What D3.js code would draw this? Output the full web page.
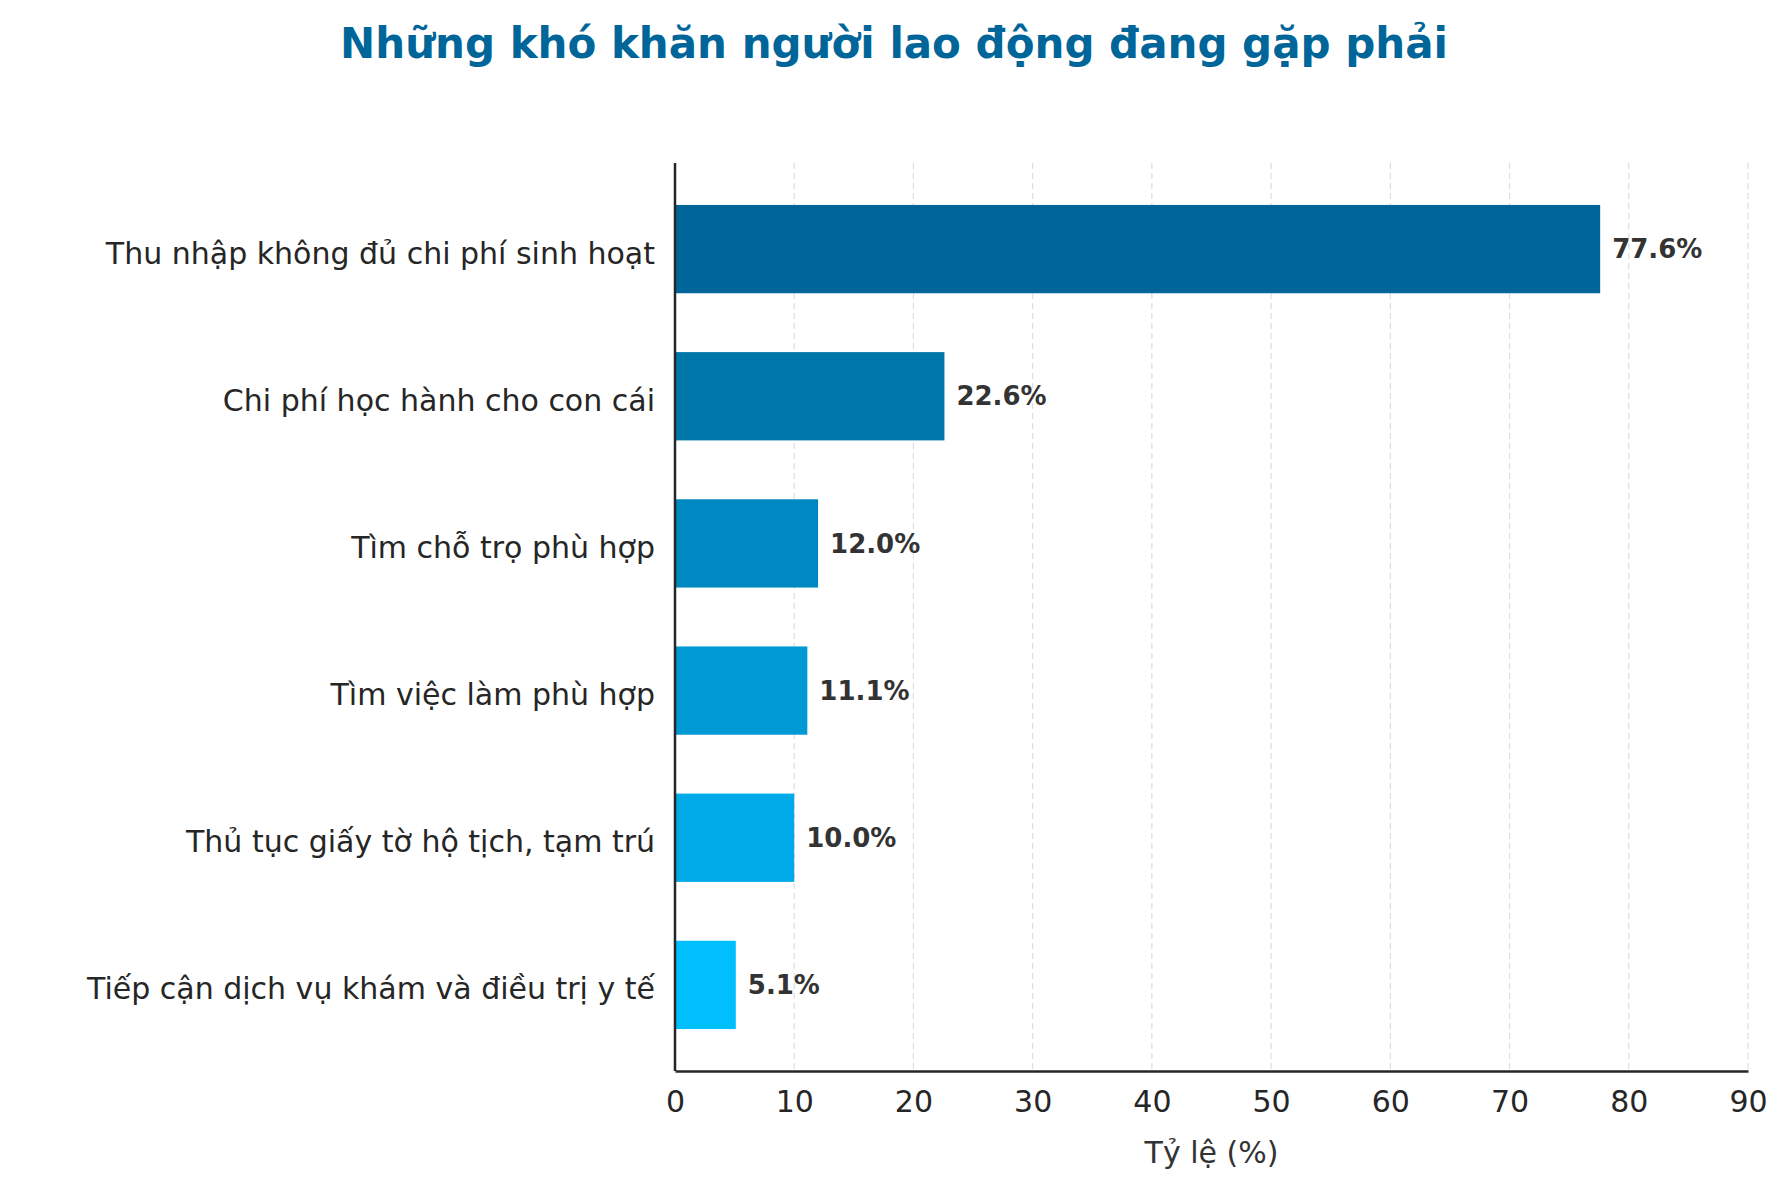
<!DOCTYPE html>
<html>
<head>
<meta charset="utf-8">
<script src="https://cdn.jsdelivr.net/npm/d3@7"></script>
<style>
  body { margin: 0; background: #fff; }
  text { font-family: "DejaVu Sans", sans-serif; }
</style>
</head>
<body>
<div id="chart"></div>
<script>
// data
var categories = [
    "Thu nhập không đủ chi phí sinh hoạt",
    "Chi phí học hành cho con cái",
    "Tìm chỗ trọ phù hợp",
    "Tìm việc làm phù hợp",
    "Thủ tục giấy tờ hộ tịch, tạm trú",
    "Tiếp cận dịch vụ khám và điều trị y tế"
];
var values = [77.6, 22.6, 12.0, 11.1, 10.0, 5.1];
var colors = ["#006699", "#0077aa", "#0088c2", "#0099d4", "#00aae8", "#00bfff"];
var xTicks = [0, 10, 20, 30, 40, 50, 60, 70, 80, 90];

var W = 1779, H = 1185;
var plotLeft = 675, plotRight = 1748, plotTop = 163, plotBottom = 1071;

var svg = d3.select("#chart").append("svg")
    .attr("width", W).attr("height", H);

var x = d3.scaleLinear().domain([0, 90]).range([plotLeft, plotRight]);
var y = d3.scaleLinear().domain([-0.585, categories.length - 1 + 0.585]).range([plotTop, plotBottom]);

// grid
svg.append("g").selectAll("line")
    .data(xTicks.slice(1))
    .enter().append("line")
    .attr("x1", function(d) { return x(d); })
    .attr("x2", function(d) { return x(d); })
    .attr("y1", plotTop).attr("y2", plotBottom)
    .attr("stroke", "#dddddd")
    .attr("stroke-width", 1.2)
    .attr("stroke-dasharray", "6,4");

// bars
svg.append("g").selectAll("rect")
    .data(values)
    .enter().append("rect")
    .attr("x", x(0))
    .attr("y", function(d, i) { return y(i - 0.3); })
    .attr("width", function(d) { return x(d) - x(0); })
    .attr("height", y(0.6) - y(0))
    .attr("fill", function(d, i) { return colors[i]; });

// value labels
svg.append("g").selectAll("text")
    .data(values)
    .enter().append("text")
    .attr("x", function(d) { return x(d) + 12; })
    .attr("y", function(d, i) { return y(i); })
    .attr("dy", "0.35em")
    .style("font-size", "26px")
    .style("font-weight", "bold")
    .attr("fill", "#333333")
    .text(function(d) { return d.toFixed(1) + "%"; });

// category labels
svg.append("g").selectAll("text")
    .data(categories)
    .enter().append("text")
    .attr("x", plotLeft - 20)
    .attr("y", function(d, i) { return y(i) + 4; })
    .attr("dy", "0.35em")
    .attr("text-anchor", "end")
    .style("font-size", "30px")
    .attr("fill", "#262626")
    .text(function(d) { return d; });

// x axis
var xAxis = svg.append("g")
    .attr("transform", "translate(0," + plotBottom + ")")
    .call(d3.axisBottom(x).tickValues(xTicks).tickSize(0).tickPadding(20));
xAxis.select(".domain").attr("stroke", "#262626").attr("stroke-width", 2.5);
xAxis.selectAll("text").style("font-size", "30px").attr("fill", "#262626")
    .style("font-family", "DejaVu Sans, sans-serif");

// y axis line
svg.append("line")
    .attr("x1", plotLeft).attr("x2", plotLeft)
    .attr("y1", plotTop).attr("y2", plotBottom)
    .attr("stroke", "#262626").attr("stroke-width", 2.5);

// axis title
svg.append("text")
    .attr("x", (plotLeft + plotRight) / 2)
    .attr("y", 1163)
    .attr("text-anchor", "middle")
    .style("font-size", "30px")
    .attr("fill", "#333333")
    .text("Tỷ lệ (%)");

// title
svg.append("text")
    .attr("x", 894)
    .attr("y", 58)
    .attr("text-anchor", "middle")
    .style("font-size", "42px")
    .style("font-weight", "bold")
    .attr("fill", "#006699")
    .text("Những khó khăn người lao động đang gặp phải");
</script>
</body>
</html>
